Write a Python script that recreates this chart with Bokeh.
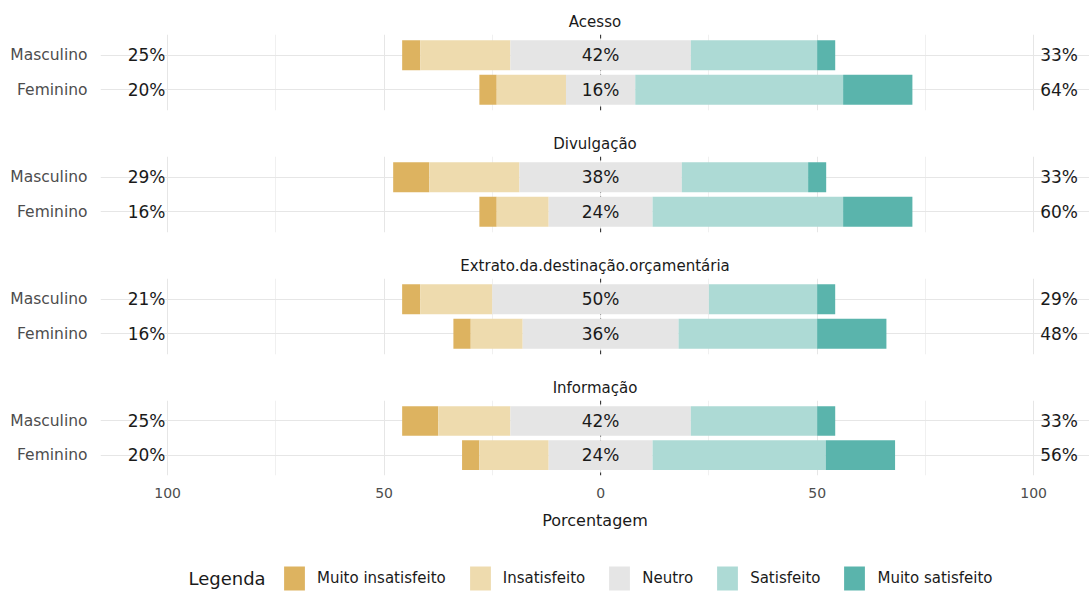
import numpy as np
from bokeh.plotting import figure
from bokeh.models import (ColumnDataSource, Span, FixedTicker, Legend, LegendItem,
                          Label, Range1d, FactorRange)
from bokeh.layouts import column
from bokeh.embed import file_html
from bokeh.resources import INLINE
from bokeh.core.properties import value

# ---------------- data ----------------
items = ["Acesso", "Divulgação", "Extrato.da.destinação.orçamentária", "Informação"]
groups = ["Masculino", "Feminino"]
levels = ["Muito insatisfeito", "Insatisfeito", "Neutro", "Satisfeito", "Muito satisfeito"]
level_colors = ["#DDB360", "#EEDBAE", "#E5E5E5", "#ADDAD5", "#5AB4AC"]

masc_muito_insat = [4.17, 8.33, 4.17, 8.33]
masc_insat = [20.83, 20.83, 16.67, 16.67]
masc_neutro = [41.67, 37.50, 50.00, 41.67]
masc_satisf = [29.17, 29.17, 25.00, 29.17]
masc_muito_satisf = [4.17, 4.17, 4.17, 4.17]

fem_muito_insat = [4, 4, 4, 4]
fem_insat = [16, 12, 12, 16]
fem_neutro = [16, 24, 36, 24]
fem_satisf = [48, 44, 32, 40]
fem_muito_satisf = [16, 16, 16, 16]

x_ticks = [-100, -50, 0, 50, 100]
x_minor = [-75, -25, 25, 75]
x_tick_labels = {-100: "100", -50: "50", 0: "0", 50: "50", 100: "100"}

FONT = value("DejaVu Sans")
W = 1089
H = 595
XR = (-115.5, 112.9)

masc = [masc_muito_insat, masc_insat, masc_neutro, masc_satisf, masc_muito_satisf]
fem = [fem_muito_insat, fem_insat, fem_neutro, fem_satisf, fem_muito_satisf]


def panel(i, last=False):
    h = 166 if last else 122
    p = figure(width=W, height=h, x_range=Range1d(*XR),
               y_range=FactorRange(factors=["Feminino", "Masculino"], range_padding=0.1),
               toolbar_location=None, output_backend="svg",
               min_border_left=100, min_border_right=0, min_border_top=34,
               min_border_bottom=56 if last else 12)
    p.outline_line_color = None
    p.title.text = items[i]
    p.title.align = "center"
    p.title.text_font = "DejaVu Sans"
    p.title.text_font_size = "15px"
    p.title.text_font_style = "normal"
    p.title.text_color = "#1a1a1a"
    p.title.standoff = 8

    # zero line under bars
    p.add_layout(Span(location=0, dimension="height", line_color="#222222",
                      line_dash="4 4", line_width=1, level="underlay"))

    ys, lefts, rights, cols = [], [], [], []
    lo_lab, mid_lab, hi_lab = [], [], []
    for g, data in zip(groups, [masc, fem]):
        vals = [d[i] for d in data]
        start = -(vals[0] + vals[1] + vals[2] / 2.0)
        cum = start + np.concatenate([[0], np.cumsum(vals)])
        for k in range(5):
            ys.append(g)
            lefts.append(cum[k])
            rights.append(cum[k + 1])
            cols.append(level_colors[k])
        lo_lab.append(f"{vals[0] + vals[1]:.0f}%")
        mid_lab.append(f"{vals[2]:.0f}%")
        hi_lab.append(f"{vals[3] + vals[4]:.0f}%")

    src = ColumnDataSource(dict(y=ys, left=lefts, right=rights, color=cols))
    p.hbar(y="y", left="left", right="right", height=0.87, fill_color="color",
           line_color=None, source=src)

    tsrc = ColumnDataSource(dict(y=groups, lo=lo_lab, mid=mid_lab, hi=hi_lab,
                                 xl=[-100.5] * 2, xm=[0] * 2, xh=[101.5] * 2))
    common = dict(text_font=FONT, text_font_size="17px", text_color="#1a1a1a",
                  text_baseline="middle", source=tsrc)
    p.text(x="xl", y="y", text="lo", text_align="right", **common)
    p.text(x="xm", y="y", text="mid", text_align="center", **common)
    p.text(x="xh", y="y", text="hi", text_align="left", **common)

    # axes
    p.xaxis.ticker = FixedTicker(ticks=x_ticks, minor_ticks=x_minor)
    p.xaxis.major_label_overrides = x_tick_labels
    p.xaxis.axis_line_color = None
    p.xaxis.major_tick_line_color = None
    p.xaxis.minor_tick_line_color = None
    p.xaxis.major_label_text_font = "DejaVu Sans"
    p.xaxis.major_label_text_font_size = "14px"
    p.xaxis.major_label_text_color = "#4d4d4d"
    p.xaxis.major_label_standoff = 6
    if last:
        p.xaxis.axis_label = "Porcentagem"
        p.xaxis.axis_label_text_font = "DejaVu Sans"
        p.xaxis.axis_label_text_font_size = "16px"
        p.xaxis.axis_label_text_font_style = "normal"
        p.xaxis.axis_label_text_color = "#1a1a1a"
        p.xaxis.axis_label_standoff = 10
    else:
        p.xaxis.visible = False

    p.yaxis.axis_line_color = None
    p.yaxis.major_tick_line_color = None
    p.yaxis.major_label_text_font = "DejaVu Sans"
    p.yaxis.major_label_text_font_size = "15.5px"
    p.yaxis.major_label_text_color = "#4d4d4d"
    p.yaxis.major_label_standoff = 7

    p.xgrid.grid_line_color = "#e6e6e6"
    p.xgrid.minor_grid_line_color = "#f0f0f0"
    p.ygrid.grid_line_color = "#e6e6e6"
    return p


panels = [panel(i, last=(i == 3)) for i in range(4)]

# legend figure (same x scale as the panels; its frame is aligned with theirs)
LH = H - 3 * 122 - 166
lf = figure(width=W, height=LH, x_range=Range1d(*XR), y_range=Range1d(0, LH),
            toolbar_location=None, output_backend="svg",
            min_border_left=100, min_border_right=0, min_border_top=0, min_border_bottom=0,
            x_axis_location=None, y_axis_location=None)
lf.outline_line_color = None
lf.grid.visible = False
rends = []
for c in level_colors:
    # legend-key renderers, kept below the visible y range
    rends.append(lf.hbar(y=[-1000], left=[0], right=[1], height=1,
                         fill_color=c, line_color=None))
leg = Legend(items=[LegendItem(label=lv, renderers=[r]) for lv, r in zip(levels, rends)],
             orientation="horizontal", location=(181, 2), glyph_width=26, glyph_height=30,
             label_standoff=10, spacing=21, padding=0, margin=0,
             border_line_color=None, background_fill_alpha=0,
             label_text_font="DejaVu Sans", label_text_font_size="15px",
             label_text_color="#1a1a1a")
lf.add_layout(leg)
lf.add_layout(Label(x=88, y=17, x_units="screen", y_units="screen", text="Legenda",
                    text_font="DejaVu Sans", text_font_size="18px",
                    text_color="#1a1a1a", text_baseline="middle"))

layout = column(*panels, lf, spacing=0)
open("out.html", "w").write(file_html(layout, INLINE))
